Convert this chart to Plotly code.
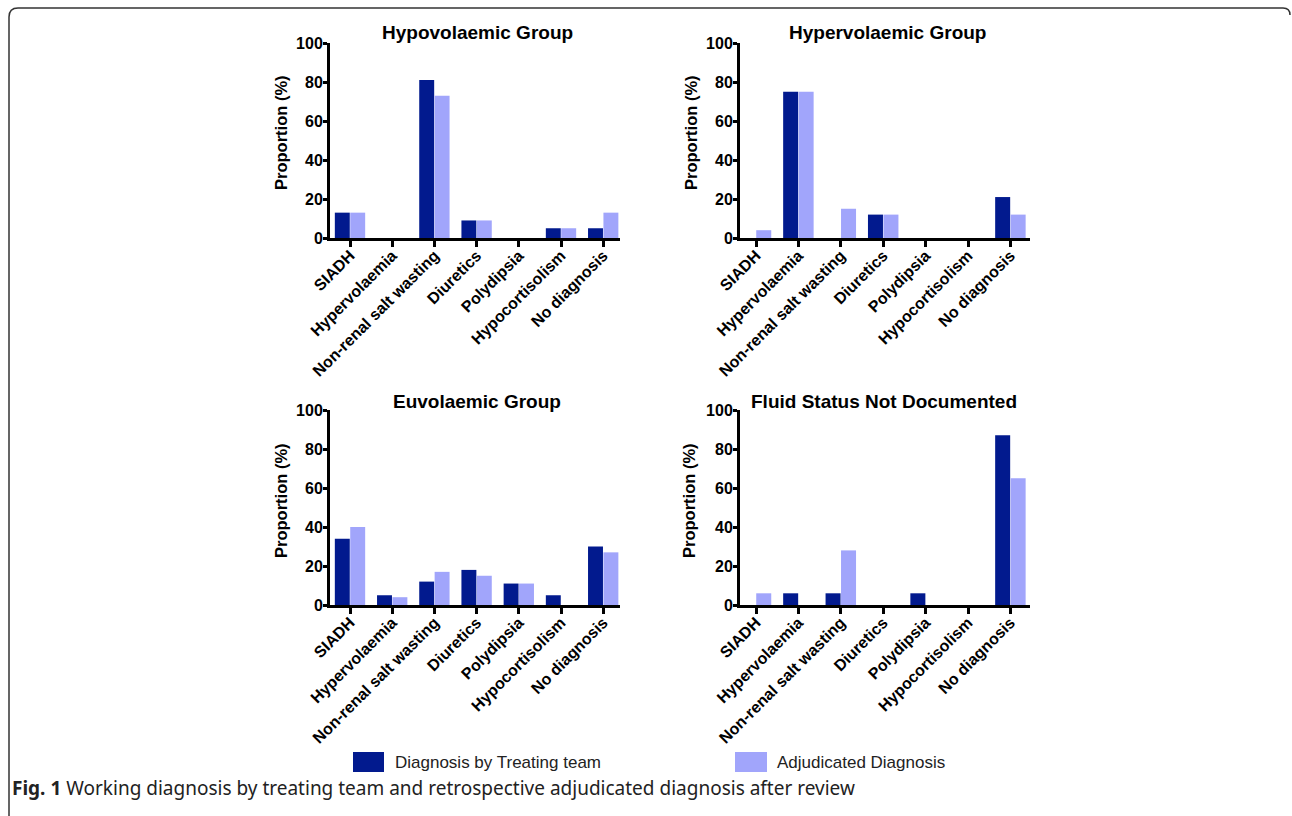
import plotly.graph_objects as go

W, H = 1292, 816

categories = ["SIADH", "Hypervolaemia", "Non-renal salt wasting", "Diuretics",
              "Polydipsia", "Hypocortisolism", "No diagnosis"]

panel_titles = ["Hypovolaemic Group", "Hypervolaemic Group",
                "Euvolaemic Group", "Fluid Status Not Documented"]

hypo_treating = [13, 0, 81, 9, 0, 5, 5]
hypo_adjud = [13, 0, 73, 9, 0, 5, 13]

hyper_treating = [0, 75, 0, 12, 0, 0, 21]
hyper_adjud = [4, 75, 15, 12, 0, 0, 12]

euvo_treating = [34, 5, 12, 18, 11, 5, 30]
euvo_adjud = [40, 4, 17, 15, 11, 0, 27]

nodoc_treating = [0, 6, 6, 0, 6, 0, 87]
nodoc_adjud = [6, 0, 28, 0, 0, 0, 65]

y_ticks = [0, 20, 40, 60, 80, 100]

series_names = ["Diagnosis by Treating team", "Adjudicated Diagnosis"]
caption_bold = "Fig. 1"
caption_text = "Working diagnosis by treating team and retrospective adjudicated diagnosis after review"

DARK = "#021a8e"
LIGHT = "#a1a5fb"

panels = [
    (hypo_treating, hypo_adjud),
    (hyper_treating, hyper_adjud),
    (euvo_treating, euvo_adjud),
    (nodoc_treating, nodoc_adjud),
]

# pixel geometry: (x_left, x_right, y_top, y_bottom, first_tick_px, tick_step_px)
geom = [
    (330, 620, 43, 238, 350, 42.2),
    (740, 1030, 43, 238, 756, 42.4),
    (330, 620, 410, 605, 350, 42.2),
    (740, 1030, 410, 605, 756, 42.4),
]

def px(x):
    return x / W

def py(y):
    return 1 - y / H

fig = go.Figure()
layout = {}
annotations = []
for i, ((t_vals, a_vals), (xl, xr, yt, yb, ft, st)) in enumerate(zip(panels, geom)):
    n = i + 1
    xa = "x" if n == 1 else f"x{n}"
    ya = "y" if n == 1 else f"y{n}"
    fig.add_trace(go.Bar(x=categories, y=t_vals, name=series_names[0],
                         marker=dict(color=DARK, line=dict(width=0)),
                         xaxis=xa, yaxis=ya, offsetgroup="t", showlegend=False))
    fig.add_trace(go.Bar(x=categories, y=a_vals, name=series_names[1],
                         marker=dict(color=LIGHT, line=dict(width=0)),
                         xaxis=xa, yaxis=ya, offsetgroup="a", showlegend=False))
    r0 = -(ft - xl) / st
    r1 = (xr - ft) / st
    xkey = "xaxis" if n == 1 else f"xaxis{n}"
    ykey = "yaxis" if n == 1 else f"yaxis{n}"
    layout[xkey] = dict(
        domain=[px(xl), px(xr)], anchor=ya, type="category",
        categoryorder="array", categoryarray=categories, automargin=False,
        range=[r0, r1], showline=True, linecolor="black", linewidth=3,
        ticks="outside", ticklen=6, tickwidth=3, tickcolor="black",
        tickangle=-45, showgrid=False, zeroline=False, ticklabelstandoff=-7,
        tickfont=dict(family="Liberation Sans, Arial, sans-serif", size=16,
                      color="black", weight="bold"),
    )
    layout[ykey] = dict(
        domain=[py(yb), py(yt)], anchor=xa, range=[0, 100], automargin=False,
        tickvals=y_ticks, showline=True, linecolor="black", linewidth=3,
        ticks="outside", ticklen=4, tickwidth=3, tickcolor="black",
        showgrid=False, zeroline=False, ticklabelstandoff=-3,
        tickfont=dict(family="Liberation Sans, Arial, sans-serif", size=16,
                      color="black", weight="bold"),
    )

# panel titles
title_pos = [(477, 33), (887, 33), (477, 401), (884, 401)]
for t, (x, y) in zip(panel_titles, title_pos):
    annotations.append(dict(text=f"<b>{t}</b>", x=px(x), y=py(y), xref="paper", yref="paper",
                            xanchor="center", yanchor="middle", showarrow=False,
                            font=dict(family="Liberation Sans, Arial, sans-serif", size=19, color="black")))

# y axis titles
ytitle_pos = [(281, 133), (691, 133), (281, 501), (689, 501)]
for (x, y) in ytitle_pos:
    annotations.append(dict(text="<b>Proportion (%)</b>", x=px(x), y=py(y), xref="paper", yref="paper",
                            xanchor="center", yanchor="middle", showarrow=False, textangle=-90,
                            font=dict(family="Liberation Sans, Arial, sans-serif", size=16.5, color="black")))

# legend (drawn manually)
shapes = []
legend_items = [(353, 384, 393, series_names[0], DARK), (735, 767, 775, series_names[1], LIGHT)]
for (x0, x1, tx, name, col) in legend_items:
    shapes.append(dict(type="rect", xref="paper", yref="paper", x0=px(x0), x1=px(x1),
                       y0=py(772), y1=py(752), fillcolor=col, line=dict(width=0)))
    annotations.append(dict(text=name, x=px(tx), y=py(762), xref="paper", yref="paper",
                            xanchor="left", yanchor="middle", showarrow=False,
                            font=dict(family="Liberation Sans, Arial, sans-serif", size=17, color="#222")))

# caption
annotations.append(dict(text=f"<b>{caption_bold}</b> {caption_text}", x=px(10), y=py(788),
                        xref="paper", yref="paper", xanchor="left", yanchor="middle", showarrow=False,
                        font=dict(family="Noto Sans, sans-serif", size=19, color="#222")))

# frame (top-left rounded border)
path = (f"M {px(9)},{py(816)} L {px(9)},{py(17)} Q {px(9)},{py(8)} {px(18)},{py(8)} "
        f"L {px(1283)},{py(8)} Q {px(1290)},{py(8)} {px(1290)},{py(15)}")
shapes.append(dict(type="path", xref="paper", yref="paper", path=path,
                   line=dict(color="#333", width=1.5)))

fig.update_layout(
    template="none",
    width=W, height=H, margin=dict(l=0, r=0, t=0, b=0, pad=0, autoexpand=False),
    paper_bgcolor="white", plot_bgcolor="white",
    barmode="group", bargap=0.27, bargroupgap=0.03,
    annotations=annotations, shapes=shapes, **layout,
)

fig.write_html("out.html", config={"displayModeBar": False},
               post_script="document.body.style.margin='0';document.body.style.overflow='hidden';")
